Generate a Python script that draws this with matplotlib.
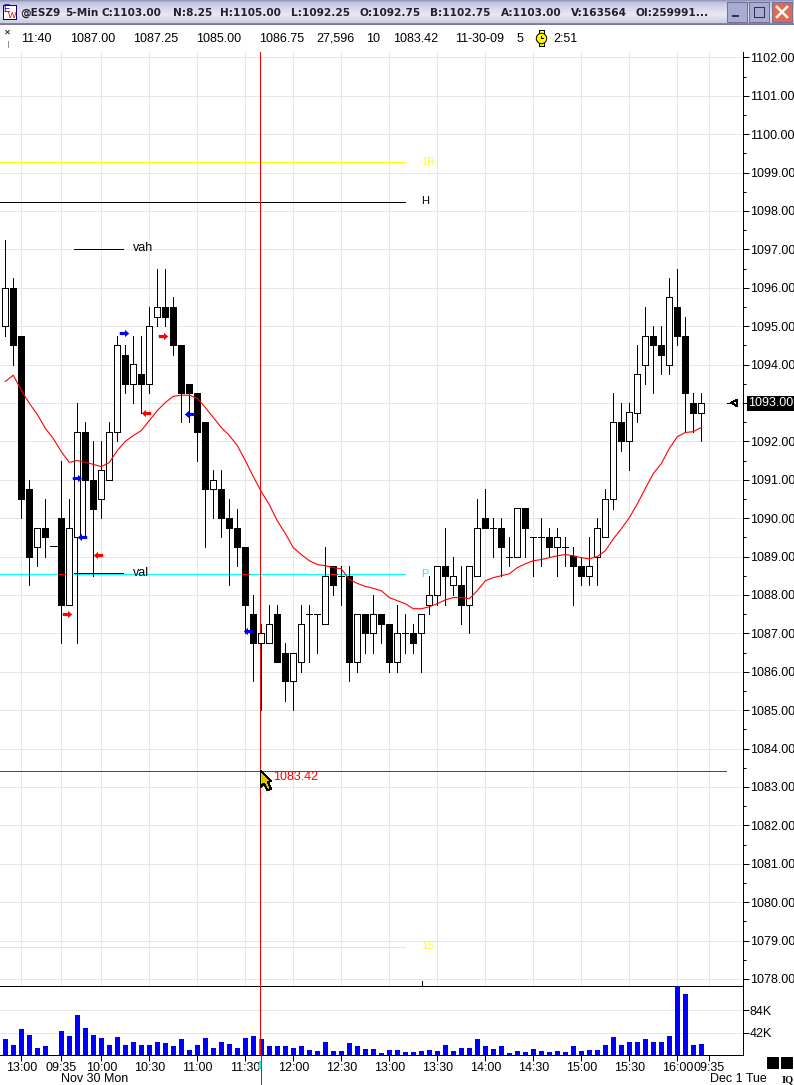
#!/usr/bin/env python3
# ESZ9 5-min candles with volume pane, drawn like the trading window screenshot
import numpy as np
import matplotlib
matplotlib.use("Agg")
import matplotlib.pyplot as plt
from matplotlib.path import Path
from matplotlib.patches import Polygon, Rectangle
from matplotlib.ticker import FixedLocator

nan = float("nan")

opens = [1095, 1096, 1094.75, 1090.75, 1089.25, 1089.75, nan, 1090, 1087.75, 1089.5,
         1092.25, 1091, 1090.5, 1091, 1092.25, 1094.25, 1093.5, 1093.75, 1093.5, 1095.25,
         1095.5, 1095.5, 1094.5, 1093.5, 1093.25, 1092.5, 1090.75, 1090.75, 1090, 1089.75,
         1089.25, 1087.5, 1086.75, 1086.75, 1087.5, 1086.5, 1085.75, 1086.25, 1087.5, 1087.5,
         1087.25, 1088.75, 1088.5, 1088.5, 1086.25, 1087.5, 1087, 1087.5, 1087.25, 1086.25,
         1087, 1087, 1087, 1087.75, 1088, 1088.75, 1088.25, 1088.25, 1087.75, 1088.5,
         1090, 1089.75, 1089.75, 1089, 1089, 1090.25, 1089.5, 1089.5, 1089.5, 1089.25,
         1089.25, 1089, 1088.75, 1088.5, 1089, 1089.5, 1090.5, 1092.5, 1092, 1092.75,
         1094, 1094.75, 1094.5, 1094, 1095.5, 1094.75, 1093, 1092.75]
closes = [1096, 1094.5, 1090.5, 1089, 1089.75, 1089.5, nan, 1087.75, 1089.75, 1092.25,
          1091, 1090.25, 1091.25, 1092.25, 1094.5, 1093.5, 1094, 1093.5, 1095, 1095.5,
          1095.25, 1094.5, 1093.25, 1093.25, 1092.25, 1090.75, 1091, 1090, 1089.75, 1089.25,
          1087.75, 1086.75, 1087, 1087.25, 1086.25, 1085.75, 1086.5, 1087.25, 1087.5, 1087.5,
          1088.5, 1088.25, 1088.5, 1086.25, 1087.5, 1087, 1087.5, 1087.25, 1086.25, 1087,
          1087, 1086.75, 1087.5, 1088, 1088.75, 1088.5, 1088.5, 1087.75, 1088.75, 1089.75,
          1089.75, 1089.75, 1089.25, 1089, 1090.25, 1089.75, 1089.5, 1089.5, 1089.25, 1089.5,
          1089.25, 1088.75, 1088.5, 1088.75, 1089.75, 1090.5, 1092.5, 1092, 1092.75, 1093.75,
          1094.75, 1094.5, 1094.25, 1095.75, 1094.75, 1093.25, 1092.75, 1093]
highs = [1097.25, 1096.25, 1094.75, 1091, 1089.75, 1090.5, nan, 1091.5, 1090.5, 1093,
         1092.5, 1092, 1092, 1092.5, 1094.75, 1094.5, 1094.75, 1094.75, 1095.5, 1096.5,
         1096.5, 1095.75, 1094.5, 1093.5, 1093.25, 1092.5, 1091.25, 1091.25, 1090.5, 1090.25,
         1089.25, 1088, 1087.25, 1087.75, 1087.75, 1086.75, 1086.5, 1087.75, 1087.75, 1087.5,
         1089.25, 1088.75, 1088.75, 1088.75, 1087.5, 1087.5, 1088, 1087.5, 1087.25, 1087.75,
         1087.5, 1087.25, 1087.5, 1088.5, 1088.75, 1089.75, 1089, 1088.75, 1088.75, 1090.5,
         1090.75, 1090, 1090, 1089.5, 1090.25, 1090.25, 1089.5, 1090, 1089.75, 1089.75,
         1089.5, 1089.25, 1089, 1089.5, 1090, 1090.75, 1093.25, 1093, 1093, 1094.5,
         1095.5, 1095, 1095, 1096.25, 1096.5, 1095.25, 1093.25, 1093.25]
lows = [1094.75, 1094, 1090, 1088.25, 1088.75, 1089, nan, 1086.75, 1087.75, 1086.75,
        1089.5, 1088.5, 1090, 1091, 1092, 1093.25, 1093, 1092.75, 1093.25, 1095,
        1095, 1094.25, 1092.5, 1092.5, 1091.5, 1089.25, 1090, 1089.5, 1088.25, 1088.75,
        1087, 1085.75, 1085, 1086.75, 1086.25, 1085.25, 1085, 1086, 1086.25, 1086.5,
        1087.25, 1088, 1087.75, 1085.75, 1086, 1086.5, 1086.5, 1086.75, 1086, 1086,
        1086.5, 1086.5, 1086, 1087.5, 1087.75, 1087.75, 1088, 1087.25, 1087, 1088.5,
        1089.75, 1089, 1088.5, 1088.75, 1089, 1089, 1088.5, 1088.75, 1089, 1088.5,
        1088.75, 1087.75, 1088.25, 1088.25, 1088.25, 1089.5, 1090.25, 1091.75, 1091.25, 1092.5,
        1093.5, 1093.25, 1093.75, 1093.75, 1094.5, 1092.25, 1092.25, 1092]
volumes = [29, 18, 48, 38, 14, 16, 0, 44, 35, 74,
           51, 38, 31, 19, 33, 19, 25, 19, 18, 25,
           23, 16, 29, 10, 18, 31, 14, 25, 21, 14,
           31, 35, 29, 16, 16, 16, 14, 16, 10, 8,
           25, 8, 8, 23, 16, 12, 12, 4, 10, 10,
           6, 6, 8, 10, 8, 18, 8, 14, 14, 29,
           16, 12, 16, 4, 8, 6, 12, 8, 6, 8,
           6, 16, 8, 10, 10, 19, 33, 18, 25, 25,
           29, 25, 25, 36, 130, 114, 19, 21]
ma_line = [1093.56, 1093.72, 1093.33, 1092.99, 1092.70, 1092.34, 1092.07, 1091.73, 1091.45, 1091.50,
           1091.45, 1091.40, 1091.34, 1091.45, 1091.76, 1092.00, 1092.15, 1092.28, 1092.54, 1092.80,
           1093.01, 1093.17, 1093.20, 1093.20, 1093.12, 1092.88, 1092.62, 1092.36, 1092.15, 1091.89,
           1091.50, 1091.08, 1090.69, 1090.35, 1089.93, 1089.60, 1089.23, 1089.05, 1088.89, 1088.79,
           1088.76, 1088.71, 1088.68, 1088.40, 1088.30, 1088.22, 1088.17, 1088.11, 1087.93, 1087.85,
           1087.77, 1087.64, 1087.64, 1087.69, 1087.77, 1087.87, 1087.93, 1087.93, 1087.90, 1088.11,
           1088.37, 1088.45, 1088.50, 1088.55, 1088.71, 1088.81, 1088.89, 1088.92, 1088.97, 1089.02,
           1089.05, 1089.02, 1088.97, 1088.94, 1089.00, 1089.15, 1089.46, 1089.72, 1090.01, 1090.37,
           1090.77, 1091.16, 1091.42, 1091.81, 1092.12, 1092.23, 1092.25, 1092.36]

time_ticks = [2, 7, 12, 18, 24, 30, 36, 42, 48, 54, 60, 66, 72, 78, 84, 88]
time_labels = ["13:00", "09:35", "10:00", "10:30", "11:00", "11:30", "12:00", "12:30",
               "13:00", "13:30", "14:00", "14:30", "15:00", "15:30", "16:00", "09:35"]

# pivot levels and markers
level_r1, level_h, level_p, level_s1 = 1099.27, 1098.22, 1088.55, 1078.83
level_vah, level_val = 1097.02, 1088.58
cross_price, cross_bar = 1083.42, 31.89
last_price = 1093.0

arrow_bars = [14.85, 17.6, 19.75, 23.0, 8.95, 9.6, 11.6, 7.75, 30.3]
arrow_prices = [1094.82, 1092.75, 1094.75, 1092.7, 1091.05, 1089.5, 1089.05, 1087.5, 1087.07]
arrow_dirs = [1, -1, 1, -1, 1, -1, -1, 1, -1]
arrow_colors = ["#0000ff", "#ff0000", "#ff0000", "#0000ff", "#0000ff", "#0000ff", "#ff0000", "#ff0000", "#0000ff"]

title_words = ["@ESZ9", "5-Min", "C:1103.00", "N:8.25", "H:1105.00", "L:1092.25", "O:1092.75",
               "B:1102.75", "A:1103.00", "V:163564", "OI:259991..."]
title_x = [20, 65, 102, 173, 220, 291, 360, 430, 501, 571, 636]
title_size = 7.6

W, H = 794, 1085
PX = 0.72
FONT = "Liberation Sans"
GRID = "#e6e6e6"

plt.rcParams.update({"font.family": FONT, "font.size": 9, "axes.linewidth": PX,
                     "lines.antialiased": False, "patch.antialiased": False})


def bar_x(px):
    return (px - 5.3) / 8.0


def panel(fig, left, top, right, bottom):
    return fig.add_axes([left / W, 1 - bottom / H, (right - left) / W, (bottom - top) / H])


def arrow_marker(d):
    v = np.array([[-4.5, -1.5], [0.5, -1.5], [0.5, -3.5], [4.5, 0], [0.5, 3.5], [0.5, 1.5],
                  [-4.5, 1.5], [-4.5, -1.5]])
    v[:, 0] *= d
    return Path(v, closed=True)


fig = plt.figure(figsize=(W / 100, H / 100), dpi=100, facecolor="white")

# price pane
ax = panel(fig, 0, 52, 742.7, 985.5)
xlim = (bar_x(0), bar_x(742.7))
ax.set_xlim(*xlim)
ax.set_ylim(1102 - (985.5 - 57.3) / 38.4, 1102 + 5.3 / 38.4)
ax.set_axisbelow(True)
for s in ["left", "top", "bottom"]:
    ax.spines[s].set_visible(False)
ax.yaxis.tick_right()
prices = np.arange(1078, 1103)
ax.set_yticks(prices)
ax.set_yticklabels([f"{p:.2f}" for p in prices])
ax.yaxis.set_minor_locator(FixedLocator(prices[:-1] + 0.5))
ax.tick_params(axis="y", which="major", length=4, width=PX, pad=1, labelsize=9, direction="out")
ax.tick_params(axis="y", which="minor", length=2, width=PX, direction="out")
ax.set_xticks(time_ticks)
ax.tick_params(axis="x", length=0, labelbottom=False)
ax.grid(True, color=GRID, lw=PX)

# level lines
x_end = bar_x(405)
ax.hlines(level_r1, xlim[0], x_end, color="#ffff00", lw=PX, zorder=2, antialiased=False)
ax.hlines(level_s1, xlim[0], x_end, color="#ffff00", lw=PX, zorder=2, antialiased=False)
ax.hlines(level_h, xlim[0], x_end, color="black", lw=PX, zorder=2, antialiased=False)
ax.hlines(level_p, xlim[0], x_end, color="#00ffff", lw=PX, zorder=2, antialiased=False)
ax.hlines([level_vah, level_val], bar_x(74), bar_x(123), color="black", lw=PX, zorder=2, antialiased=False)
ax.hlines(1089.27, bar_x(50), bar_x(57), color="black", lw=PX, zorder=2, antialiased=False)
ax.hlines(cross_price, xlim[0], bar_x(726), color="#ff0000", lw=PX, zorder=2, antialiased=False)
ax.axvline(cross_bar, color="#ff0000", lw=PX, zorder=2)

# candles
idx = np.arange(len(opens))
o, c, hi, lo = map(np.array, (opens, closes, highs, lows))
up = c > o
ax.vlines(idx, lo, hi, color="black", lw=PX, zorder=3, antialiased=False)
body_w = 6.0 / 8.0
ax.bar(idx[up], (c - o)[up], bottom=o[up], width=body_w, facecolor="white", edgecolor="black",
       lw=PX, zorder=4)
ax.bar(idx[~up], (o - c)[~up], bottom=c[~up], width=body_w, facecolor="black", edgecolor="black",
       lw=PX, zorder=4)
# the pivot line shows red where it passes over a black body
down = (c < o) & (c < level_p) & (o > level_p) & (idx < bar_x(405))
ax.hlines(np.full(down.sum(), level_p), idx[down] - 0.4, idx[down] + 0.4, color="#ff0000", lw=PX,
          zorder=5, antialiased=False)

ax.plot(idx, ma_line, color="#ff0000", lw=0.8, zorder=6, antialiased=True)

for xb, yp, d, col in zip(arrow_bars, arrow_prices, arrow_dirs, arrow_colors):
    ax.plot([xb], [yp], marker=arrow_marker(d), ms=6.8, color=col, mew=0, ls="none", zorder=7)

# volume pane
vx = panel(fig, 0, 985.5, 742.7, 1055)
vx.set_xlim(*xlim)
vx.set_ylim(0, 130)
vx.bar(idx, volumes, width=5.0 / 8.0, color="#0000ff", zorder=3)
vx.axvline(cross_bar, color="#ff0000", lw=PX, zorder=5)
vx.vlines(cross_bar - 0.13, 0, volumes[32], color="#00c000", lw=PX, zorder=5, antialiased=False)
vx.yaxis.tick_right()
vx.set_yticks([42, 84])
vx.set_yticklabels(["42K", "84K"])
vx.tick_params(axis="y", length=4, width=PX, pad=1, labelsize=9)
vx.set_xticks(time_ticks)
vx.set_xticklabels(time_labels)
vx.tick_params(axis="x", length=4, width=PX, pad=0.8, labelsize=9)
vx.grid(True, axis="y", color=GRID, lw=PX, zorder=0)
vx.set_axisbelow(True)
vx.spines["left"].set_visible(False)

# window furniture, in pixels
ui = fig.add_axes([0, 0, 1, 1], zorder=20)
ui.set_xlim(0, W)
ui.set_ylim(H, 0)
ui.axis("off")
ui.patch.set_alpha(0)

stops_y = [0, 2, 5, 14, 22, 23, 25]
stops = np.array([[150, 152, 190], [190, 192, 220], [205, 207, 230], [232, 232, 242],
                  [205, 205, 225], [130, 130, 165], [110, 110, 150]], float)
rows = np.stack([np.interp(np.arange(25), stops_y, stops[:, k]) for k in range(3)], axis=1)
ui.imshow(rows[:, None, :] / 255.0, extent=(0, W, 25, 0), aspect="auto", zorder=1)
ui.set_xlim(0, W)
ui.set_ylim(H, 0)

for x0, word in zip(title_x, title_words):
    ui.text(x0, 13, word, ha="left", va="center", fontsize=title_size, fontweight="bold", color="#202030",
            zorder=3, family="DejaVu Sans")

# app icon
ui.add_patch(Rectangle((2.5, 5), 13, 14, fc="white", ec="#000090", lw=PX, zorder=3))
ui.text(6, 9.5, "E", fontsize=7, color="#0000d0", ha="center", va="center", zorder=4)
ui.text(12, 15, "W", fontsize=6.5, color="#e00000", ha="center", va="center", zorder=4)

# window buttons
for x0, fc in [(727, "#a8acd0"), (749, "#a8acd0"), (772, "#e06a50")]:
    ui.add_patch(Rectangle((x0, 2), 19.5, 20, fc=fc, ec="#707098", lw=PX, zorder=3))
ui.add_patch(Rectangle((732, 15), 7, 2, fc="#303050", ec="none", zorder=4))
ui.add_patch(Rectangle((754, 7), 10, 10, fc="none", ec="#303050", lw=PX, zorder=4))
ui.plot([777, 787], [7, 17], color="white", lw=1.8, zorder=4, antialiased=True)
ui.plot([777, 787], [17, 7], color="white", lw=1.8, zorder=4, antialiased=True)

# info row
info = [(21, "11:40"), (70, "1087.00"), (133, "1087.25"), (196, "1085.00"), (259, "1086.75"),
        (316, "27,596"), (366, "10"), (393, "1083.42"), (455, "11-30-09"), (517, "5"), (553, "2:51")]
for x0, s in info:
    ui.text(x0, 38.5, s, ha="left", va="center", fontsize=9, color="black", zorder=3)
ui.text(7, 32, "✕", ha="center", va="center", fontsize=6, fontweight="bold", color="black",
        family="DejaVu Sans", zorder=3)
ui.plot([7.5, 7.5], [41, 47], color="#909090", lw=PX, zorder=3)

# watch icon
ui.add_patch(Rectangle((538.5, 30), 5, 16, fc="#ffff00", ec="black", lw=PX * 0.7, zorder=3))
ui.plot([541], [38], marker="o", ms=7.5, mfc="#ffff00", mec="black", mew=PX, zorder=4)
ui.plot([541, 541, 543], [36, 38, 38], color="black", lw=0.5, zorder=5)

# level labels
ui.text(421, 162, "1R", color="#ffff00", fontsize=8, va="center", zorder=3)
ui.text(421, 201, "H", color="black", fontsize=8, va="center", zorder=3)
ui.text(421, 574, "P", color="#00ffff", fontsize=8, va="center", zorder=3)
ui.text(421, 946, "1S", color="#ffff00", fontsize=8, va="center", zorder=3)
ui.text(133, 248, "vah", color="black", fontsize=9, va="center", zorder=3)
ui.text(133, 572.5, "val", color="black", fontsize=9, va="center", zorder=3)
ui.text(273, 777, "1083.42", color="#ff0000", fontsize=9, va="center", zorder=3)

# last price flag
ui.add_patch(Rectangle((746.7, 396), 47.3, 15, fc="black", ec="none", zorder=3))
ui.text(748, 403.3, f"{last_price:.2f}", color="white", fontsize=9, va="center", zorder=4)
ui.add_patch(Polygon([[731, 402.7], [737, 399.5], [737, 406]], closed=True, fc="white", ec="black",
                     lw=PX, zorder=4))
ui.plot([727, 731], [402.7, 402.7], color="black", lw=PX, zorder=4)

# crosshair below the axis and cursor
ui.plot([260.5, 260.5], [1055, 1085], color="#ff0000", lw=PX, zorder=3)
ui.add_patch(Rectangle((258.5, 1061), 2.5, 8, fc="#00ffff", ec="none", zorder=4))
ui.add_patch(Polygon([[260.5, 770.5], [271, 781], [267.5, 782], [271.5, 789], [267.5, 790],
                      [264, 783.5], [260.5, 787]], closed=True, fc="#d8c800", ec="black", lw=PX, zorder=5))

ui.plot([421.5, 421.5], [981, 985], color="black", lw=PX, zorder=3)

# bottom strip
ui.text(95, 1079.5, "Nov 30 Mon", ha="center", va="center", fontsize=9, zorder=3)
ui.text(738.5, 1079.5, "Dec 1 Tue", ha="center", va="center", fontsize=9, zorder=3)
ui.add_patch(Rectangle((767, 1057), 12, 12, fc="black", ec="none", zorder=3))
ui.add_patch(Rectangle((781, 1057), 12, 12, fc="black", ec="none", zorder=3))
ui.text(787.5, 1080, "IQ", ha="center", va="center", fontsize=7.5, family="Liberation Serif",
        fontweight="bold", zorder=3)

fig.savefig("out.png", dpi=100, facecolor="white")
